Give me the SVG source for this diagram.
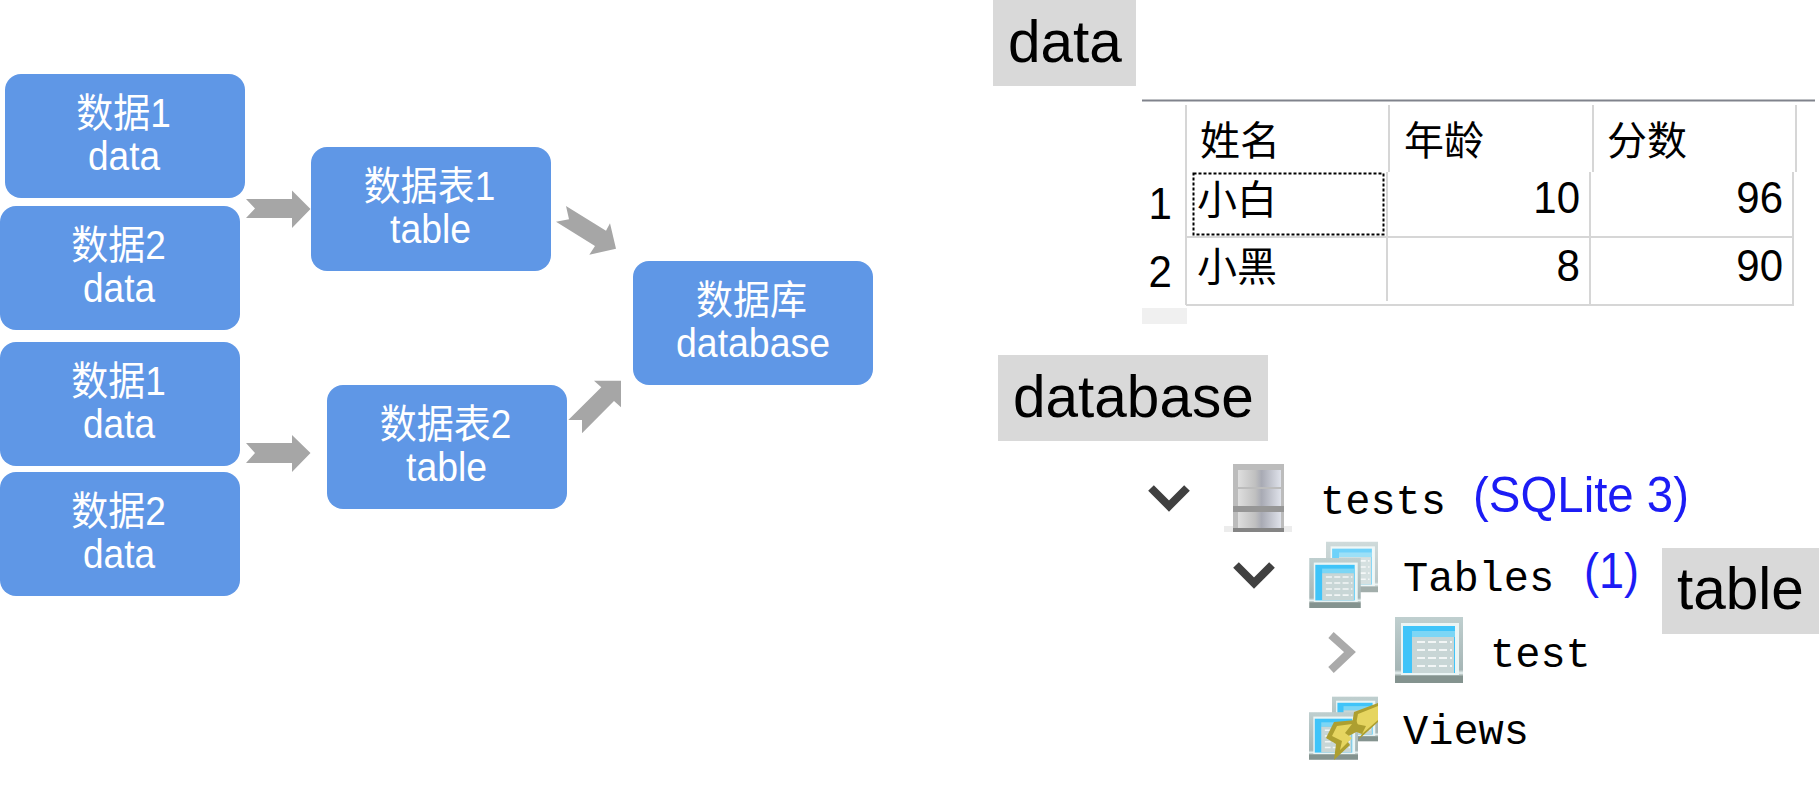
<svg xmlns="http://www.w3.org/2000/svg" xmlns:xlink="http://www.w3.org/1999/xlink" width="1819" height="802" viewBox="0 0 1819 802">
<style>
text{font-family:"Liberation Sans","Noto Sans CJK SC",sans-serif}
.box{fill:#5f97e6}
.nt{fill:#fff;font-size:40px;text-anchor:middle}
.arrow{fill:#a6a6a6}
.lab{fill:#d9d9d9}
.lt{fill:#000;font-size:58.5px}
.hl{stroke:#d6d6d6;stroke-width:2;fill:none}
.cell{fill:#000;font-size:40px}
.num{fill:#000;font-size:45px;text-anchor:end}
.mono{font-family:"Liberation Mono","Noto Sans CJK SC",monospace;font-size:42px;fill:#000}
.blue{fill:#1c1cf5;font-size:50px}
.chev{fill:none;stroke:#404040;stroke-width:8}
.bolt{fill:#e6d560}
.bolt2{fill:#ad9f30}
</style>
<defs>
<linearGradient id="frame" x1="0" y1="0" x2="0" y2="1"><stop offset="0" stop-color="#bfcfcf"/><stop offset=".8" stop-color="#a6b6b6"/><stop offset=".85" stop-color="#e8f2f2"/><stop offset=".9" stop-color="#84938f"/><stop offset="1" stop-color="#84938f"/></linearGradient>
<linearGradient id="dbcell" x1="0" y1="0" x2="1" y2="0"><stop offset="0" stop-color="#dedede"/><stop offset=".4" stop-color="#c0c0c0"/><stop offset=".55" stop-color="#a8aab4"/><stop offset="1" stop-color="#dfe2ea"/></linearGradient>
<symbol id="tbl" viewBox="0 0 68 66">
<rect width="68" height="66" fill="url(#frame)"/>
<rect x="6" y="6" width="58" height="52" fill="#eaf5f5"/>
<rect x="8" y="9" width="52" height="47" fill="#3fc4f9"/>
<rect x="17" y="14" width="43" height="6" fill="#7cd6f5"/>
<rect x="17" y="20" width="42" height="36" fill="#c8d6d6"/>
<path d="M22 25h35M22 33h35M22 41h35M22 49h35" stroke="#f2f6f6" stroke-width="2" stroke-dasharray="8 3"/>
</symbol>
</defs>

<g id="connectors">
<polygon class="arrow" points="246,199 292,199 292,190.5 310.5,209 292,228 292,218 246,218 255,208.5"/>
<polygon class="arrow" points="246,443 292,443 292,435 310.5,453 292,472 292,463 246,463 255,453"/>
<polygon class="arrow" points="566,206 606,230.7 610,223.3 616,248.7 589.3,254.7 595,246 556,221.7 569,219.3"/>
<polygon class="arrow" points="621,380.7 594,380.7 601.3,387.3 568.3,420 582,420 582,433.3 614,401 621,407.3"/>
</g>

<g id="node-data1a"><rect class="box" x="5" y="74" width="240" height="124" rx="16"/><text class="nt" x="123.500" y="127" textLength="94.600" lengthAdjust="spacingAndGlyphs">数据1</text><text class="nt" x="124" y="170" textLength="72" lengthAdjust="spacingAndGlyphs">data</text></g>
<g id="node-data2a"><rect class="box" x="0" y="206" width="240" height="124" rx="16"/><text class="nt" x="118.500" y="259" textLength="94.600" lengthAdjust="spacingAndGlyphs">数据2</text><text class="nt" x="119" y="302" textLength="72" lengthAdjust="spacingAndGlyphs">data</text></g>
<g id="node-data1b"><rect class="box" x="0" y="342" width="240" height="124" rx="16"/><text class="nt" x="118.500" y="395" textLength="94.600" lengthAdjust="spacingAndGlyphs">数据1</text><text class="nt" x="119" y="438" textLength="72" lengthAdjust="spacingAndGlyphs">data</text></g>
<g id="node-data2b"><rect class="box" x="0" y="472" width="240" height="124" rx="16"/><text class="nt" x="118.500" y="525" textLength="94.600" lengthAdjust="spacingAndGlyphs">数据2</text><text class="nt" x="119" y="568" textLength="72" lengthAdjust="spacingAndGlyphs">data</text></g>
<g id="node-table1"><rect class="box" x="311" y="147" width="240" height="124" rx="16"/><text class="nt" x="429.500" y="200" textLength="131.600" lengthAdjust="spacingAndGlyphs">数据表1</text><text class="nt" x="430.500" y="243" textLength="81" lengthAdjust="spacingAndGlyphs">table</text></g>
<g id="node-table2"><rect class="box" x="327" y="385" width="240" height="124" rx="16"/><text class="nt" x="445.500" y="438" textLength="131.600" lengthAdjust="spacingAndGlyphs">数据表2</text><text class="nt" x="446.500" y="481" textLength="81" lengthAdjust="spacingAndGlyphs">table</text></g>
<g id="node-database"><rect class="box" x="633" y="261" width="240" height="124" rx="16"/><text class="nt" x="751.500" y="314" textLength="111" lengthAdjust="spacingAndGlyphs">数据库</text><text class="nt" x="753" y="357" textLength="154" lengthAdjust="spacingAndGlyphs">database</text></g>

<g id="label-data"><rect class="lab" x="993" y="0" width="143" height="86"/><text class="lt" x="1008" y="62">data</text></g>
<g id="label-database"><rect class="lab" x="998" y="355" width="270" height="86"/><text class="lt" x="1013" y="417">database</text></g>
<g id="label-table"><rect class="lab" x="1662" y="548" width="157" height="86"/><text class="lt" x="1677" y="609">table</text></g>

<g id="data-table">
<line x1="1142" y1="100.500" x2="1815" y2="100.500" stroke="#80838c" stroke-width="2"/>
<path class="hl" d="M1186 105V305M1389 105V172M1593 105V172M1796 105V172M1387 172V301M1590 172V305M1793 172V305M1186 237H1793M1186 305H1794"/>
<rect x="1142" y="308" width="45" height="16" fill="#f0f0f0"/>
<rect x="1193.500" y="173.500" width="190" height="61" fill="none" stroke="#000" stroke-width="2" stroke-dasharray="3 2"/>
<text class="cell" x="1200" y="155">姓名</text>
<text class="cell" x="1404" y="155">年龄</text>
<text class="cell" x="1607" y="155">分数</text>
<text class="cell" x="1197" y="214">小白</text>
<text class="cell" x="1197" y="281">小黑</text>
<text class="num" x="1172" y="219" textLength="23.400" lengthAdjust="spacingAndGlyphs">1</text>
<text class="num" x="1172" y="287" textLength="23.400" lengthAdjust="spacingAndGlyphs">2</text>
<text class="num" x="1580" y="213" textLength="46.700" lengthAdjust="spacingAndGlyphs">10</text>
<text class="num" x="1783" y="213" textLength="46.700" lengthAdjust="spacingAndGlyphs">96</text>
<text class="num" x="1580" y="281" textLength="23.400" lengthAdjust="spacingAndGlyphs">8</text>
<text class="num" x="1783" y="281" textLength="46.700" lengthAdjust="spacingAndGlyphs">90</text>
</g>

<g id="tree">
<path class="chev" d="M1151 488L1169 506L1187 488"/>
<g id="icon-db">
<rect x="1224" y="526" width="68" height="6" fill="#ececec"/>
<rect x="1233" y="464" width="51" height="68" fill="#bcbcbc"/>
<rect x="1233" y="506" width="51" height="6" fill="#969696"/>
<rect x="1233" y="528" width="51" height="4" fill="#848484"/>
<rect x="1238" y="470" width="43" height="17" fill="url(#dbcell)"/>
<rect x="1238" y="489" width="43" height="17" fill="url(#dbcell)"/>
<rect x="1238" y="512" width="43" height="16" fill="url(#dbcell)"/>
</g>
<text class="mono" x="1320" y="514">tests</text>
<text class="blue" x="1473" y="512" textLength="216" lengthAdjust="spacingAndGlyphs">(SQLite 3)</text>

<path class="chev" d="M1236 565L1254 583L1272 565"/>
<use xlink:href="#tbl" href="#tbl" x="1326" y="541" width="52" height="52" opacity=".75"/>
<use xlink:href="#tbl" href="#tbl" x="1309" y="558" width="52" height="50"/>
<text class="mono" x="1403" y="591">Tables</text>
<text class="blue" x="1584" y="588" textLength="55" lengthAdjust="spacingAndGlyphs">(1)</text>

<path class="chev" style="stroke:#aaa" d="M1331 635L1350 652L1331 670"/>
<use xlink:href="#tbl" href="#tbl" x="1395" y="617" width="68" height="66"/>
<text class="mono" x="1490" y="667">test</text>

<use xlink:href="#tbl" href="#tbl" x="1332" y="694" width="46" height="50"/>
<use xlink:href="#tbl" href="#tbl" x="1309" y="711" width="49" height="50"/>
<polygon class="bolt2" points="1378,703 1354,712 1351,730 1362,734 1358,740 1378,722"/>
<polygon class="bolt" points="1378,706 1358,714 1356,724 1366,726 1362,734 1378,720"/>
<polygon class="bolt2" points="1356,720 1334,722 1326,738 1336,744 1334,760 1350,745 1345,738 1360,730"/>
<polygon class="bolt" points="1352,724 1337,726 1332,736 1342,741 1340,750 1352,738 1345,733"/>
<text class="mono" x="1403" y="744">Views</text>
</g>
</svg>
